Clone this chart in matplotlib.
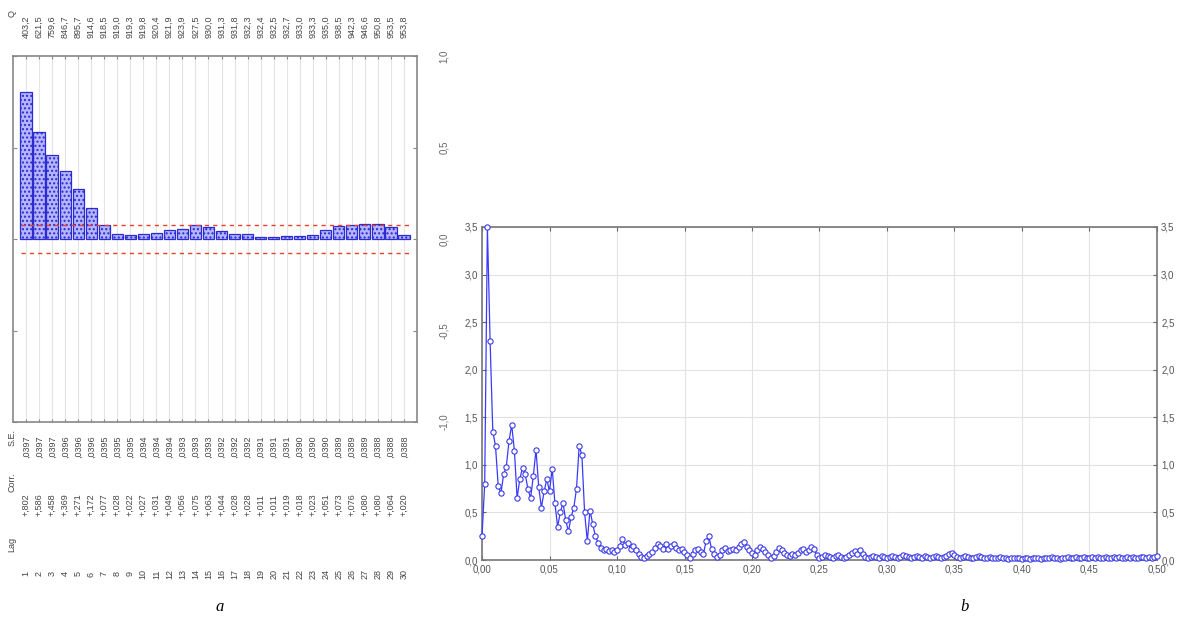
import numpy as np
import matplotlib
matplotlib.use("Agg")
import matplotlib.pyplot as plt
from matplotlib import transforms

# (a) autocorrelation function, lags 1..30
lags = list(range(1, 31))
corr = [0.802, 0.586, 0.458, 0.369, 0.271, 0.172, 0.077, 0.028, 0.022, 0.027,
        0.031, 0.049, 0.056, 0.075, 0.063, 0.044, 0.028, 0.028, 0.011, 0.011,
        0.019, 0.018, 0.023, 0.051, 0.073, 0.076, 0.080, 0.080, 0.064, 0.020]
se = [0.0397, 0.0397, 0.0397, 0.0396, 0.0396, 0.0396, 0.0395, 0.0395, 0.0395, 0.0394,
      0.0394, 0.0394, 0.0393, 0.0393, 0.0393, 0.0392, 0.0392, 0.0392, 0.0391, 0.0391,
      0.0391, 0.0390, 0.0390, 0.0390, 0.0389, 0.0389, 0.0389, 0.0388, 0.0388, 0.0388]
q = [403.2, 621.5, 759.6, 846.7, 895.7, 914.6, 918.5, 919.0, 919.3, 919.8,
     920.4, 921.9, 923.9, 927.5, 930.0, 931.3, 931.8, 932.3, 932.4, 932.5,
     932.7, 933.0, 933.3, 935.0, 938.5, 942.3, 946.6, 950.8, 953.5, 953.8]
conf_lim = 0.079

# (b) spectral density vs frequency, step 1/500
spec = [0.25, 0.80, 3.50, 2.30, 1.35, 1.20, 0.78, 0.70, 0.90, 0.98,
        1.25, 1.42, 1.15, 0.65, 0.85, 0.97, 0.90, 0.75, 0.65, 0.88,
        1.16, 0.77, 0.55, 0.72, 0.85, 0.72, 0.96, 0.60, 0.35, 0.50,
        0.60, 0.42, 0.30, 0.45, 0.55, 0.75, 1.20, 1.10, 0.50, 0.20,
        0.52, 0.38, 0.25, 0.18, 0.13, 0.10, 0.12, 0.09, 0.10, 0.08,
        0.10, 0.15, 0.22, 0.16, 0.18, 0.12, 0.15, 0.10, 0.06, 0.03,
        0.02, 0.04, 0.06, 0.08, 0.13, 0.17, 0.15, 0.12, 0.17, 0.12,
        0.15, 0.17, 0.13, 0.10, 0.12, 0.08, 0.05, 0.02, 0.06, 0.10,
        0.12, 0.08, 0.06, 0.20, 0.25, 0.12, 0.06, 0.03, 0.05, 0.10,
        0.13, 0.09, 0.10, 0.12, 0.10, 0.14, 0.17, 0.19, 0.14, 0.10,
        0.07, 0.05, 0.10, 0.14, 0.12, 0.08, 0.05, 0.02, 0.04, 0.08,
        0.13, 0.11, 0.07, 0.05, 0.04, 0.06, 0.05, 0.07, 0.10, 0.12,
        0.08, 0.10, 0.14, 0.12, 0.05, 0.02, 0.03, 0.05, 0.04, 0.03,
        0.02, 0.04, 0.05, 0.03, 0.02, 0.03, 0.05, 0.07, 0.09, 0.06,
        0.11, 0.06, 0.03, 0.02, 0.03, 0.04, 0.03, 0.02, 0.04, 0.03,
        0.02, 0.03, 0.04, 0.03, 0.02, 0.03, 0.05, 0.04, 0.03, 0.02,
        0.03, 0.04, 0.03, 0.02, 0.04, 0.03, 0.02, 0.03, 0.04, 0.03,
        0.02, 0.03, 0.04, 0.06, 0.07, 0.05, 0.03, 0.02, 0.03, 0.04,
        0.03, 0.02, 0.02, 0.03, 0.04, 0.03, 0.02, 0.02, 0.03, 0.02,
        0.02, 0.02, 0.03, 0.02, 0.02, 0.01, 0.02, 0.02, 0.02, 0.02,
        0.01, 0.02, 0.02, 0.01, 0.02, 0.02, 0.02, 0.01, 0.02, 0.02,
        0.02, 0.03, 0.02, 0.02, 0.01, 0.02, 0.02, 0.03, 0.02, 0.02,
        0.03, 0.02, 0.02, 0.03, 0.02, 0.02, 0.03, 0.02, 0.03, 0.02,
        0.02, 0.03, 0.02, 0.02, 0.03, 0.02, 0.03, 0.02, 0.02, 0.03,
        0.02, 0.03, 0.02, 0.02, 0.03, 0.03, 0.02, 0.03, 0.02, 0.03,
        0.04]
freq = np.arange(len(spec)) / 500.0


def comma(v, nd):
    return f"{v:.{nd}f}".replace(".", ",")


W, H = 1184, 621
plt.rcParams["font.family"] = ["Liberation Sans", "DejaVu Sans"]
plt.rcParams["hatch.color"] = "#7a7aee"
fig = plt.figure(figsize=(W / 100, H / 100), dpi=100)

# ---- left panel (a) ----
axl = fig.add_axes([13 / W, 1 - 422 / H, 404 / W, 366 / H])
for k in lags:
    axl.axvline(k, color="#e4e4e4", lw=0.8, zorder=0)
axl.bar(lags, corr, width=0.86, color="#b4b4ff", edgecolor="#2b2bd0",
        hatch="....", linewidth=0.9, zorder=2)
axl.plot([0.6, 30.4], [conf_lim, conf_lim], ls=(0, (3, 3)), color="#e8402a", lw=1, zorder=3)
axl.plot([0.6, 30.4], [-conf_lim, -conf_lim], ls=(0, (3, 3)), color="#e8402a", lw=1, zorder=3)
axl.set_xlim(0, 31)
axl.set_ylim(-1.0, 1.0)
axl.set_xticks(lags)
axl.tick_params(axis="x", which="both", top=True, bottom=True, labelbottom=False,
                direction="in", length=2, color="#888888")
axl.yaxis.tick_right()
axl.set_yticks([-1.0, -0.5, 0.0, 0.5, 1.0])
axl.set_yticklabels([comma(v, 1) for v in [-1.0, -0.5, 0.0, 0.5, 1.0]],
                    rotation=90, va="center", fontsize=7, color="#666666")
axl.tick_params(axis="y", direction="in", length=3, pad=16, left=True, right=True,
                color="#888888")
for s in axl.spines.values():
    s.set_color("#888888")
    s.set_linewidth(1.2)

tr = transforms.blended_transform_factory(axl.transData, fig.transFigure)
txt_kw = dict(rotation=90, ha="center", va="center", fontsize=6.5, color="#444444")
for k, qv, sv, cv in zip(lags, q, se, corr):
    axl.text(k, 1 - 27 / H, comma(qv, 1), transform=tr, **txt_kw)
    axl.text(k, 1 - 447 / H, "," + f"{sv:.4f}"[2:], transform=tr, **txt_kw)
    axl.text(k, 1 - 505 / H, "+," + f"{cv:.3f}"[2:], transform=tr, **txt_kw)
    axl.text(k, 1 - 574 / H, str(k), transform=tr, **txt_kw)
fig.text(12 / W, 1 - 14 / H, "Q", **txt_kw)
fig.text(12 / W, 1 - 438 / H, "S.E.", **txt_kw)
fig.text(12 / W, 1 - 482 / H, "Corr.", **txt_kw)
fig.text(12 / W, 1 - 544 / H, "Lag", **txt_kw)

# ---- right panel (b) ----
axr = fig.add_axes([482 / W, 1 - 560 / H, 675 / W, 333 / H])
axr.grid(True, color="#e2e2e2", lw=0.8)
axr.set_axisbelow(True)
axr.plot(freq, spec, color="#3a3aff", lw=0.9, marker="o", markersize=3.8,
         markerfacecolor="white", markeredgecolor="#3a3ae8", markeredgewidth=0.8,
         zorder=3, clip_on=False)
axr.set_xlim(0, 0.5)
axr.set_ylim(0, 3.5)
xt = np.arange(0, 0.501, 0.05)
yt = np.arange(0, 3.51, 0.5)
axr.set_xticks(xt)
axr.set_xticklabels([comma(v, 2) for v in xt], fontsize=7, color="#555555")
axr.set_yticks(yt)
axr.set_yticklabels([comma(v, 1) for v in yt], fontsize=7, color="#555555")
axr.tick_params(axis="both", direction="in", length=3, color="#666666",
                right=True, labelright=True, top=True, pad=3)
for s in axr.spines.values():
    s.set_color("#777777")
    s.set_linewidth(1.2)

cap = dict(fontsize=12, style="italic", family=["Liberation Serif", "DejaVu Serif"],
           ha="center", va="center")
fig.text(220 / W, 1 - 607 / H, "a", **cap)
fig.text(965 / W, 1 - 607 / H, "b", **cap)

fig.savefig("out.png", dpi=100)
